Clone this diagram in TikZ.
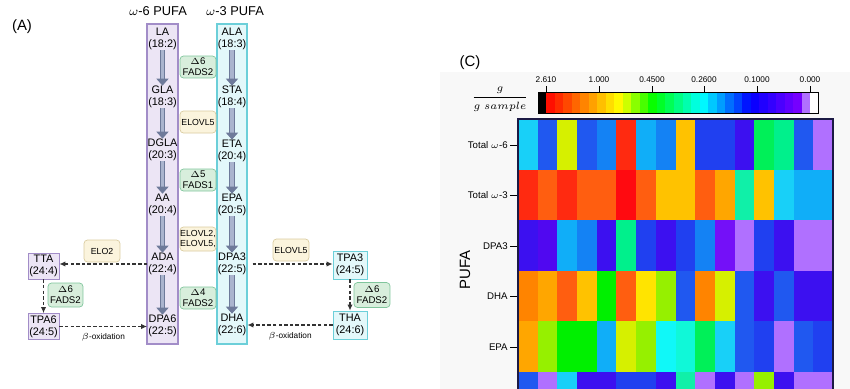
\documentclass[tikz,border=0pt]{standalone}
\usepackage{fontspec}
\setmainfont{Liberation Sans}
\usetikzlibrary{positioning,arrows.meta}

\definecolor{sixfill}{HTML}{ECE5F5}
\definecolor{sixedge}{HTML}{A28DC8}
\definecolor{threefill}{HTML}{E3F8FA}
\definecolor{threeedge}{HTML}{6CCFD9}
\definecolor{fadsfill}{HTML}{D8EEDC}
\definecolor{fadsedge}{HTML}{80C59C}
\definecolor{elofill}{HTML}{FBF4DD}
\definecolor{eloedge}{HTML}{D9CBA0}
\definecolor{arrowedge}{HTML}{6E7A9A}
\definecolor{arrowfill}{HTML}{AAB4CE}
\definecolor{hmframe}{HTML}{1C1A45}
\definecolor{panelbg}{HTML}{F8F8F8}
% heat map colours
\definecolor{hred}{HTML}{FF2A10}
\definecolor{hredx}{HTML}{FF0A10}
\definecolor{horred}{HTML}{FF5E10}
\definecolor{horange}{HTML}{FF8400}
\definecolor{hamber}{HTML}{FFA600}
\definecolor{hgold}{HTML}{FFC200}
\definecolor{hyellow}{HTML}{FFE400}
\definecolor{hlime}{HTML}{D6F000}
\definecolor{hchart}{HTML}{96F000}
\definecolor{hgreen}{HTML}{00F000}
\definecolor{hgreenb}{HTML}{00F058}
\definecolor{hspring}{HTML}{00F08C}
\definecolor{haqua}{HTML}{10F0A8}
\definecolor{hturq}{HTML}{10F8D8}
\definecolor{hcyan}{HTML}{10F8F8}
\definecolor{hsky}{HTML}{18D0F8}
\definecolor{hdeep}{HTML}{10AEF8}
\definecolor{hazure}{HTML}{1482F4}
\definecolor{hblue}{HTML}{2058F0}
\definecolor{hbluedk}{HTML}{2040F0}
\definecolor{hindigo}{HTML}{3C10F0}
\definecolor{hindigob}{HTML}{5008F0}
\definecolor{hviolet}{HTML}{7410F8}
\definecolor{hlav}{HTML}{B070FF}

\begin{document}
\begin{tikzpicture}[x=0.02cm, y=-0.02cm,
    % define styles
    fa/.style={
        inner sep=0pt,
        minimum width=0.6cm,
        minimum height=0.44cm,
        align=center,
        font=\fontsize{6.2}{6.9}\selectfont
    },
    sixbox/.style={fa, draw=sixedge, fill=sixfill, minimum width=0.62cm, minimum height=0.52cm},
    threebox/.style={fa, draw=threeedge, fill=threefill, minimum width=0.68cm, minimum height=0.56cm},
    enz/.style={
        rounded corners=2pt,
        inner sep=0pt,
        minimum width=0.72cm,
        minimum height=0.44cm,
        align=center
    },
    fads/.style={enz, draw=fadsedge, fill=fadsfill, font=\fontsize{5.5}{6.3}\selectfont},
    elo/.style={enz, draw=eloedge, fill=elofill, font=\fontsize{5}{6}\selectfont},
    fatarrow/.style={
        draw=arrowedge,
        line width=0.45pt,
        double=arrowfill,
        double distance=2.2pt,
        -{Triangle[length=4pt,width=7pt]}
    },
    dasharrow/.style={
        draw=black!80,
        line width=0.6pt,
        dash pattern=on 2pt off 1.2pt,
        -{Latex[length=3.5pt,width=3pt]}
    },
    oxi/.style={font=\fontsize{4.7}{5.5}\selectfont},
    rowlab/.style={anchor=east, inner sep=0pt, font=\fontsize{5.5}{6.5}\selectfont},
    barlab/.style={inner sep=0pt, font=\fontsize{4.7}{5.5}\selectfont}
]
\useasboundingbox (0,0) rectangle (850,389);
\clip (0,0) rectangle (850,389);

% ---------------- panel (A) ----------------
\node[font=\fontsize{8.5}{10}\selectfont] (plabA) at (22,27) {(A)};
\node[font=\fontsize{7.3}{9}\selectfont] (head6) at (158,11) {$\omega$-6 PUFA};
\node[font=\fontsize{7.3}{9}\selectfont] (head3) at (235,11) {$\omega$-3 PUFA};

% the two columns
\draw[sixedge, fill=sixfill, line width=0.6pt] (147,24) rectangle (178,344);
\draw[threeedge, fill=threefill, line width=0.6pt] (217,24) rectangle (247,344);

% omega-6 column
\node[fa] at (162.5,39) (la) {LA\\(18:2)};
\node[fa] at (162.5,97) (gla) {GLA\\(18:3)};
\node[fa] at (162.5,150) (dgla) {DGLA\\(20:3)};
\node[fa] at (162.5,205) (aa) {AA\\(20:4)};
\node[fa] at (162.5,264) (ada) {ADA\\(22:4)};
\node[fa] at (162.5,326) (dpa6) {DPA6\\(22:5)};
% omega-3 column
\node[fa] at (232,39) (ala) {ALA\\(18:3)};
\node[fa] at (232,97) (sta) {STA\\(18:4)};
\node[fa] at (232,151) (eta) {ETA\\(20:4)};
\node[fa] at (232,205) (epa) {EPA\\(20:5)};
\node[fa] at (232,264) (dpa3) {DPA3\\(22:5)};
\node[fa] at (232,325) (dha) {DHA\\(22:6)};

% arrows down the columns
\foreach \a/\b in {la/gla, gla/dgla, dgla/aa, aa/ada, ada/dpa6,
                   ala/sta, sta/eta, eta/epa, epa/dpa3, dpa3/dha}
    \draw[fatarrow] (\a) -- (\b);

% enzymes between the columns
\node[fads] at (198,67) (e1) {$\Delta$6\\FADS2};
\node[elo] at (198,122) (e2) {ELOVL5};
\node[fads] at (198,180) (e3) {$\Delta$5\\FADS1};
\node[elo,minimum height=0.48cm] at (198,239) (e4) {ELOVL2,\\ELOVL5,};
\node[fads] at (198,298) (e5) {$\Delta$4\\FADS2};

% left branch
\node[sixbox] at (43.5,266) (tta) {TTA\\(24:4)};
\node[sixbox] at (43.5,326.5) (tpa6) {TPA6\\(24:5)};
\node[elo] at (102,251) (elo2) {ELO2};
\node[fads,minimum width=0.7cm,minimum height=0.48cm] at (65.5,295) (fl) {$\Delta$6\\FADS2};
\draw[dasharrow] (ada.west) -- (ada.west -| tta.east);
\draw[dasharrow] (tta) -- (tpa6);
\draw[dasharrow] (tpa6.east) -- node[below=0.5pt,oxi] {$\beta$-oxidation} (tpa6.east -| dpa6.west);

% right branch
\node[threebox] at (350,265) (tpa3) {TPA3\\(24:5)};
\node[threebox] at (350,325) (tha) {THA\\(24:6)};
\node[elo] at (291,250) (elo5) {ELOVL5};
\node[fads,minimum height=0.5cm] at (372,295) (fr) {$\Delta$6\\FADS2};
\draw[dasharrow,shorten <=3pt] (dpa3.east) -- (dpa3.east -| tpa3.west);
\draw[dasharrow] (tpa3) -- (tha);
\draw[dasharrow] (tha.west) -- node[below=0.5pt,oxi] {$\beta$-oxidation} (tha.west -| dha.east);

% ---------------- panel (C) ----------------
\fill[panelbg] (440,72) rectangle (850,389);
\node[font=\fontsize{8.5}{10}\selectfont] (plabC) at (470,63) {(C)};

% colour bar
\fill[black] (538,92) rectangle (546,113);
\foreach \hh [count=\i from 0] in {3.5,10,17,24,31,38,45,52,58.6,72,87.7,103,118,129.5,140,151,161,172,182,193,203,214,224,235,242.5,247.5,252,257.5,262.5,267.5}{
    \definecolor{cbar}{Hsb}{\hh,1,1}
    \fill[cbar] (546+\i*8.533,92) rectangle ++(8.6,21);
}
\fill[hlav] (802,92) rectangle (810,113);
\fill[white] (810,92) rectangle (818,113);
\draw[black, line width=0.5pt] (538,92) rectangle (818,113);
\foreach \tx/\tl in {546/2.610, 599/1.000, 652/0.4500, 704/0.2600, 757/0.1000, 810/0.000}{
    \draw[black, line width=0.5pt] (\tx,92) -- (\tx,86);
    \node[barlab] at (\tx,80) {\tl};
}
\node[font=\fontsize{6.3}{7}\selectfont, inner sep=0pt] (unit) at (500,99) {$\displaystyle\frac{g}{g\;sample}$};

% heat map
\foreach \hrow [count=\r from 0] in {
    {hsky,hblue,hlime,hblue,hazure,hred,hdeep,hazure,hgold,hbluedk,hbluedk,hindigo,hgreenb,hspring,hblue,hlav},
    {hred,horred,hred,horred,horred,hredx,horred,hgold,hgold,horred,hamber,haqua,hgold,hsky,hdeep,hdeep},
    {hindigo,hindigob,hdeep,hazure,hindigo,hspring,hbluedk,hindigo,hbluedk,hazure,hviolet,hlav,hbluedk,hindigo,hlav,hlav},
    {horange,hamber,horred,hgold,hgreen,horred,hyellow,hchart,hblue,horange,hlime,hblue,hindigo,hblue,hindigo,hindigo},
    {hamber,hchart,hgreen,hgreen,hdeep,hlime,hchart,hcyan,hturq,hgreenb,hsky,hblue,hbluedk,hlav,hblue,hbluedk},
    {hblue,hlav,hsky,hindigo,hindigo,hbluedk,hbluedk,hindigo,haqua,hlav,hindigo,hlav,hchart,hindigo,hlav,hlav}}{
    \foreach \hc [count=\k from 0] in \hrow {
        \fill[\hc] (518+\k*19.69,119+\r*50.6) rectangle ++(19.8,50.7);
    }
}
\draw[hmframe, line width=0.8pt] (518,119) rectangle (833,440);

% row labels
\foreach \ry/\rl in {145/Total $\omega$-6, 195/Total $\omega$-3, 246/DPA3, 296/DHA, 347/EPA}{
    \draw[black, line width=0.5pt] (510,\ry) -- (517,\ry);
    \node[rowlab] at (508,\ry) {\rl};
}
\node[rotate=90, font=\fontsize{8.5}{10}\selectfont] (axis) at (465,270) {PUFA};
\end{tikzpicture}
\end{document}
